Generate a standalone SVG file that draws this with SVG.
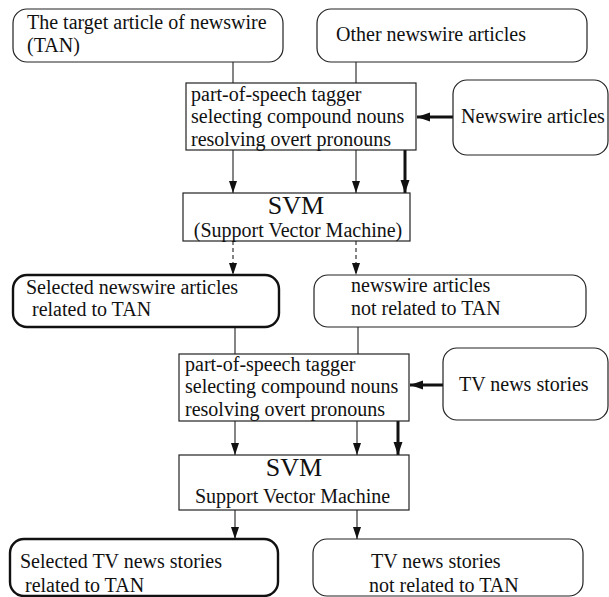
<svg xmlns="http://www.w3.org/2000/svg" width="609" height="597" viewBox="0 0 609 597">
<defs>
<style>
text{font-family:"Liberation Serif","Times New Roman",serif;font-size:20px;fill:#111}
.box{fill:#fff;stroke:#222;stroke-width:1.2}
.bold{fill:#fff;stroke:#111;stroke-width:2.4}
.ln{fill:none;stroke:#333;stroke-width:1.2}
.thick{fill:none;stroke:#111;stroke-width:3}
.dash{fill:none;stroke:#333;stroke-width:1.2;stroke-dasharray:4,3}
.big{font-size:26px}
</style>
<marker id="ah" markerUnits="userSpaceOnUse" markerWidth="12" markerHeight="10" refX="12" refY="5" orient="auto"><path d="M0,1 L12,5 L0,9 z" fill="#111"/></marker>
<marker id="ahb" markerUnits="userSpaceOnUse" markerWidth="13" markerHeight="10" refX="13" refY="5" orient="auto"><path d="M0,0.5 L13,5 L0,9.5 z" fill="#111"/></marker>
</defs>
<rect width="609" height="597" fill="#fff"/>
<g id="connectors">
<line class="ln" x1="233" y1="62" x2="233" y2="83"/>
<line class="ln" x1="356" y1="62" x2="356" y2="83"/>
<line class="thick" x1="453" y1="117" x2="417" y2="117" marker-end="url(#ahb)"/>
<line class="ln" x1="233" y1="150" x2="233" y2="193" marker-end="url(#ah)"/>
<line class="ln" x1="356" y1="150" x2="356" y2="193" marker-end="url(#ah)"/>
<line class="thick" x1="405" y1="150" x2="405" y2="193" marker-end="url(#ahb)"/>
<line class="dash" x1="233" y1="241" x2="233" y2="275" marker-end="url(#ah)"/>
<line class="dash" x1="356" y1="241" x2="356" y2="275" marker-end="url(#ah)"/>
<line class="ln" x1="235" y1="327" x2="235" y2="354"/>
<line class="ln" x1="358" y1="327" x2="358" y2="354"/>
<line class="thick" x1="443" y1="385" x2="410" y2="385" marker-end="url(#ahb)"/>
<line class="ln" x1="235" y1="421" x2="235" y2="455" marker-end="url(#ah)"/>
<line class="ln" x1="357" y1="421" x2="357" y2="455" marker-end="url(#ah)"/>
<line class="thick" x1="398" y1="421" x2="398" y2="455" marker-end="url(#ahb)"/>
<line class="ln" x1="235" y1="510" x2="235" y2="539" marker-end="url(#ah)"/>
<line class="ln" x1="357" y1="510" x2="357" y2="539" marker-end="url(#ah)"/>
</g>
<g id="tan">
<rect class="box" x="13" y="9" width="270" height="53" rx="14"/>
<text x="27" y="29">The target article of newswire</text>
<text x="27" y="52">(TAN)</text>
</g>
<g id="other">
<rect class="box" x="317" y="9" width="270" height="53" rx="14"/>
<text x="336" y="41">Other newswire articles</text>
</g>
<g id="newswire">
<rect class="box" x="453" y="80" width="155" height="75" rx="14"/>
<text x="461" y="123">Newswire articles</text>
</g>
<g id="tagger1">
<rect class="box" x="186" y="83" width="230" height="67"/>
<text x="191" y="101">part-of-speech tagger</text>
<text x="191" y="123">selecting compound nouns</text>
<text x="191" y="146">resolving overt pronouns</text>
</g>
<g id="svm1">
<rect class="box" x="183" y="193" width="227" height="48"/>
<text class="big" x="296" y="214" text-anchor="middle">SVM</text>
<text x="298" y="237" text-anchor="middle">(Support Vector Machine)</text>
</g>
<g id="selected-newswire">
<rect class="bold" x="13" y="275" width="266" height="52" rx="14"/>
<text x="26" y="294">Selected newswire articles</text>
<text x="32" y="316">related to TAN</text>
</g>
<g id="not-related-newswire">
<rect class="box" x="314" y="275" width="272" height="52" rx="14"/>
<text x="351" y="292">newswire articles</text>
<text x="351" y="315">not related to TAN</text>
</g>
<g id="tagger2">
<rect class="box" x="179" y="354" width="230" height="67"/>
<text x="185" y="371">part-of-speech tagger</text>
<text x="185" y="393">selecting compound nouns</text>
<text x="185" y="416">resolving overt pronouns</text>
</g>
<g id="tv">
<rect class="box" x="443" y="348" width="165" height="72" rx="14"/>
<text x="459" y="391">TV news stories</text>
</g>
<g id="svm2">
<rect class="box" x="179" y="455" width="230" height="55"/>
<text class="big" x="294" y="476" text-anchor="middle">SVM</text>
<text x="195" y="503">Support Vector Machine</text>
</g>
<g id="selected-tv">
<rect class="bold" x="10" y="539" width="268" height="57" rx="14"/>
<text x="20" y="568">Selected TV news stories</text>
<text x="25" y="592">related to TAN</text>
</g>
<g id="not-related-tv">
<rect class="box" x="313" y="539" width="270" height="57" rx="14"/>
<text x="371" y="568">TV news stories</text>
<text x="369" y="592">not related to TAN</text>
</g>
</svg>
